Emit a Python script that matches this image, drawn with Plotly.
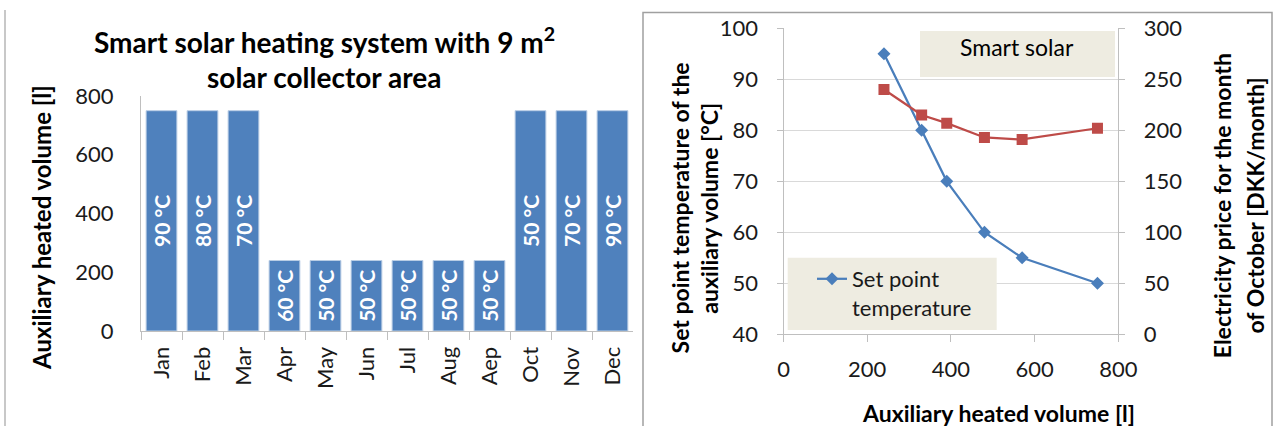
import plotly.graph_objects as go

# ---------------- data ----------------
months = ["Jan", "Feb", "Mar", "Apr", "May", "Jun", "Jul", "Aug", "Aep", "Oct", "Nov", "Dec"]
aux_volume_month = [750, 750, 750, 240, 240, 240, 240, 240, 240, 750, 750, 750]
set_point_month = [90, 80, 70, 60, 50, 50, 50, 50, 50, 50, 70, 90]

aux_volume = [240, 330, 390, 480, 570, 750]
set_point_temp = [95, 80, 70, 60, 55, 50]
electricity_price = [240, 215, 207, 193, 191, 202]

W, H = 1274, 426
FONT = "Lato"
TXT = "#1a1a1a"
AXC = "#BFBFBF"


def px(x):
    return x / W


def py(y):
    return (H - y) / H


fig = go.Figure()

fig.add_trace(go.Bar(
    x=months, y=aux_volume_month,
    text=[f"{t} °C" for t in set_point_month],
    textposition="inside", insidetextanchor="middle", textangle=-90,
    textfont=dict(family=FONT, size=21, color="white", weight="bold"),
    marker=dict(color="#4F81BD", line=dict(color="#B9CDE5", width=1)),
    xaxis="x", yaxis="y", showlegend=False, hoverinfo="x+y",
))

fig.add_trace(go.Scatter(
    x=aux_volume, y=set_point_temp, mode="lines+markers",
    name="Set point<br>temperature",
    line=dict(color="#4A7EBB", width=2.25),
    marker=dict(symbol="diamond", size=10, color="#4A7EBB"),
    xaxis="x2", yaxis="y2", showlegend=True,
))

fig.add_trace(go.Scatter(
    x=aux_volume, y=electricity_price, mode="lines+markers",
    name="Electricity price",
    line=dict(color="#BE4B48", width=2.25),
    marker=dict(symbol="square", size=11, color="#BE4B48"),
    xaxis="x2", yaxis="y3", showlegend=False,
))

tickfont = dict(family=FONT, size=22, color=TXT)

fig.update_layout(
    width=W, height=H,
    margin=dict(l=0, r=0, t=0, b=0, pad=0, autoexpand=False),
    paper_bgcolor="white", plot_bgcolor="rgba(0,0,0,0)",
    font=dict(family=FONT, color=TXT),
    bargap=0.25,
    uniformtext=dict(minsize=21, mode="show"),
    xaxis=dict(
        domain=[px(141), px(633)], type="category", range=[-0.5, 11.5],
        tickson="boundaries", ticks="outside", ticklen=8, tickcolor=AXC,
        showline=True, linecolor=AXC, tickangle=-90, tickfont=tickfont,
        anchor="y", showgrid=False, ticklabelstandoff=6,
    ),
    yaxis=dict(
        domain=[py(331), py(96)], range=[0, 800], dtick=200,
        showgrid=False, showline=True, linecolor=AXC, ticks="",
        tickfont=tickfont, anchor="x", ticklabelstandoff=22, zeroline=False,
    ),
    xaxis2=dict(
        domain=[px(783.5), px(1118.4)], range=[0, 800], dtick=200,
        ticks="outside", ticklen=7, tickcolor=AXC, showline=True, linecolor=AXC,
        tickfont=tickfont, anchor="y2", showgrid=False, zeroline=False,
        ticklabelstandoff=8,
    ),
    yaxis2=dict(
        domain=[py(334.3), py(28.3)], range=[40, 100], dtick=10,
        showgrid=True, gridcolor="#D9D9D9", gridwidth=1,
        ticks="outside", ticklen=6, tickcolor=AXC, showline=True, linecolor=AXC,
        tickfont=tickfont, anchor="x2", zeroline=False, ticklabelstandoff=14,
    ),
    yaxis3=dict(
        domain=[py(334.3), py(28.3)], range=[0, 300], dtick=50,
        overlaying="y2", side="right", anchor="x2", showgrid=False,
        ticks="outside", ticklen=6, tickcolor=AXC, showline=True, linecolor=AXC,
        tickfont=tickfont, zeroline=False, ticklabelstandoff=14,
    ),
    legend=dict(
        x=px(812), y=py(258), xanchor="left", yanchor="top",
        bgcolor="rgba(0,0,0,0)", font=dict(family=FONT, size=22, color=TXT),
        valign="top",
    ),
)

shapes = [
    dict(type="line", xref="paper", yref="paper", x0=px(5), x1=px(5), y0=0, y1=py(10),
         line=dict(color="#C8C8C8", width=2)),
    dict(type="rect", xref="paper", yref="paper", x0=px(643), x1=px(1272), y0=-0.05, y1=py(12.5),
         line=dict(color="#A0A0A0", width=1.5)),
    dict(type="rect", xref="paper", yref="paper", x0=px(920), x1=px(1115), y0=py(77), y1=py(31),
         fillcolor="#EEECE1", line=dict(width=0), layer="above"),
    dict(type="rect", xref="paper", yref="paper", x0=px(787.7), x1=px(996.7), y0=py(330), y1=py(257.7),
         fillcolor="#EEECE1", line=dict(width=0), layer="above"),
]
fig.update_layout(shapes=shapes)

ann = []


def add_text(text, x, y, size, bold=False, angle=0):
    ann.append(dict(
        text=text, x=px(x), y=py(y), xref="paper", yref="paper",
        xanchor="center", yanchor="middle", showarrow=False, textangle=angle,
        font=dict(family=FONT, size=size, color="black", weight="bold" if bold else "normal"),
    ))


add_text("Smart solar heating system with 9 m<sup>2</sup>", 324, 41, 28, bold=True)
add_text("solar collector area", 324, 77, 28, bold=True)
add_text("Auxiliary heated volume [l]", 42, 228, 24, bold=True, angle=-90)
add_text("Set point temperature of the", 680.4, 208, 23, bold=True, angle=-90)
add_text("auxiliary volume [°C]", 708.7, 208, 23, bold=True, angle=-90)
add_text("Electricity price for the month", 1222.3, 206, 23, bold=True, angle=-90)
add_text("of October [DKK/month]", 1254.6, 206, 23, bold=True, angle=-90)
add_text("Auxiliary heated volume [l]", 998.6, 413, 23, bold=True)
add_text("Smart solar", 1016.7, 47.3, 23)
fig.update_layout(annotations=ann)

fig.write_html(
    "out.html",
    config={"displayModeBar": False},
    post_script=(
        "document.body.style.margin='0';document.body.style.overflow='hidden';"
        "document.documentElement.style.overflow='hidden';"
    ),
)
